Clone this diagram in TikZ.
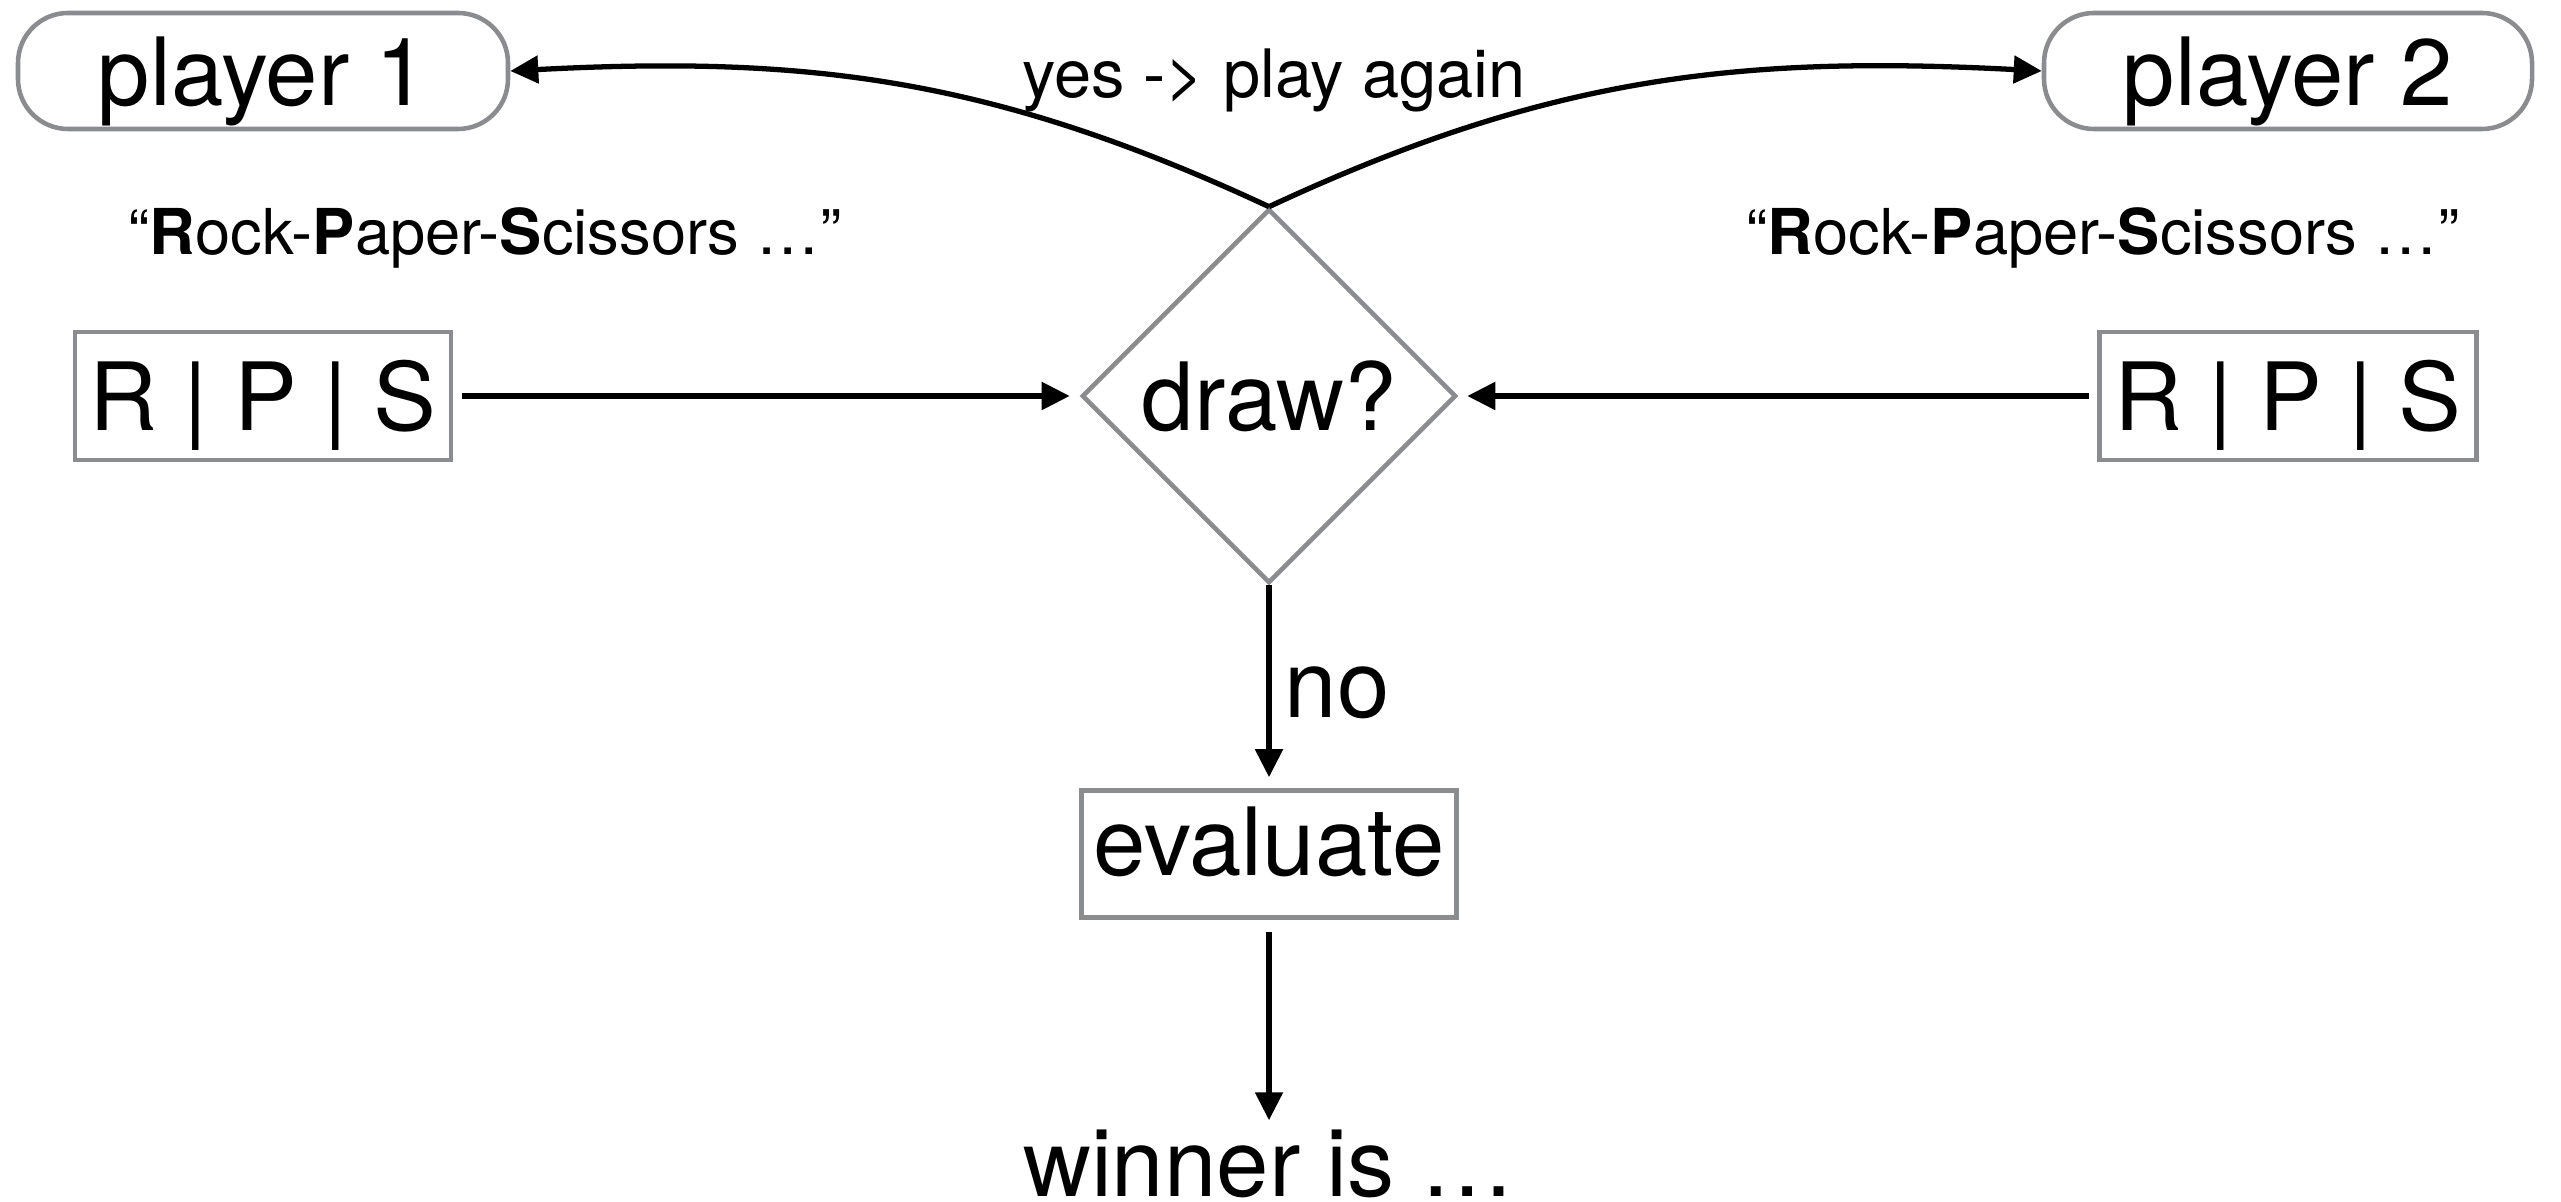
\documentclass[tikz,border=0pt]{standalone}
\usepackage{fontspec}
\setmainfont{TeX Gyre Heros}
\usetikzlibrary{shapes.geometric,arrows.meta}
\definecolor{frame}{RGB}{138,140,144}

\begin{document}
\begin{tikzpicture}[
  big/.style={font=\fontsize{26.8}{30}\selectfont},
  box/.style={draw=frame,line width=1.3pt,inner sep=0pt,big,text height=0.70cm,text depth=0pt},
  quote/.style={font=\fontsize{18}{21}\selectfont,anchor=base,inner sep=0pt},
  arr/.style={-{Triangle[length=0.28cm,width=0.27cm]},line width=1.5pt}]
\useasboundingbox (0,0) rectangle (25.61,12.01);

\node[box,rounded corners=0.5cm,minimum width=4.90cm,minimum height=1.16cm](pl1) at (2.63,11.30) {player 1};
\node[box,rounded corners=0.5cm,minimum width=4.88cm,minimum height=1.16cm](pl2) at (22.88,11.30) {player 2};
\node[font=\fontsize{19}{22}\selectfont,anchor=base,inner sep=0pt](yes) at (12.74,11.03) {yes -> play again};

\node[quote](q1) at (4.85,9.46) {“\textbf{R}ock-\textbf{P}aper-\textbf{S}cissors …”};
\node[quote](q2) at (21.03,9.46) {“\textbf{R}ock-\textbf{P}aper-\textbf{S}cissors …”};

\node[box,minimum width=3.76cm,minimum height=1.28cm](in1) at (2.63,8.05) {R | P | S};
\node[box,minimum width=3.77cm,minimum height=1.28cm](in2) at (22.88,8.05) {R | P | S};
\node[box,diamond,aspect=1,minimum width=3.74cm,minimum height=3.74cm](check) at (12.69,8.05) {draw?};

\node[box,minimum width=3.75cm,minimum height=1.27cm,text height=0.68cm,text depth=0.24cm](eval) at (12.69,3.47) {evaluate};
\node[big,anchor=base,inner sep=0pt,text height=0.68cm](win) at (12.69,0.05) {winner is …};

\draw[arr] (check.north) to[out=155,in=3] (pl1.east);
\draw[arr] (check.north) to[out=25,in=177] (pl2.west);

\draw[arr,shorten <=0.09cm,shorten >=0.10cm] (in1.east) -- (check.west);
\draw[arr,shorten <=0.08cm,shorten >=0.09cm] (in2.west) -- (check.east);

\draw[arr,shorten >=0.11cm] (check.south) -- (eval.north) node[pos=0.53,right,big,inner sep=0.13cm] (no) {no};
\draw[arr,shorten <=0.12cm,shorten >=0.07cm] (eval.south) -- (win.north);

\end{tikzpicture}
\end{document}
